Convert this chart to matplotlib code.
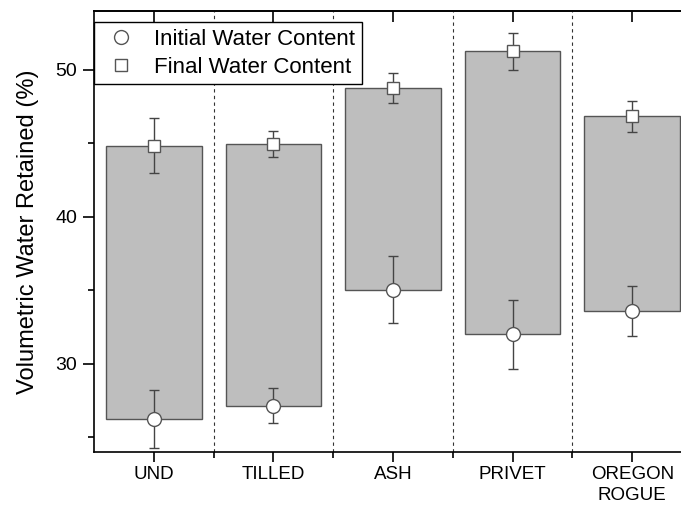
import matplotlib
matplotlib.use("Agg")
import matplotlib.pyplot as plt
from matplotlib.lines import Line2D
import numpy as np

plt.rcParams['font.family'] = ['Liberation Sans', 'DejaVu Sans']

categories = ["UND", "TILLED", "ASH", "PRIVET", "OREGON\nROGUE"]
initial = [26.25, 27.15, 35.05, 32.0, 33.6]
initial_err = [2.0, 1.2, 2.3, 2.35, 1.72]
final = [44.85, 44.95, 48.75, 51.25, 46.85]
final_err = [1.9, 0.88, 1.0, 1.28, 1.05]

fig = plt.figure(figsize=(6.81, 5.08), dpi=100)
ax = fig.add_axes([94/681, 56/508, (692-94)/681, (452-11)/508])

x = np.arange(len(categories))
heights = np.array(final) - np.array(initial)
ax.bar(x, heights, bottom=initial, width=0.8, color='#BEBEBE', edgecolor='#555555', linewidth=1.0, zorder=2)

for sep in np.arange(0.5, len(categories) - 0.5, 1.0):
    ax.axvline(sep, color='#333333', linestyle=(0, (3, 3)), linewidth=0.8, zorder=1)

mk_kw = dict(markerfacecolor='white', markeredgecolor='#555555', markeredgewidth=1.0)
ax.errorbar(x, initial, yerr=initial_err, fmt='o', markersize=10, ecolor='#444444', elinewidth=1.0,
            capsize=3.5, capthick=1.0, zorder=3, **mk_kw)
ax.errorbar(x, final, yerr=final_err, fmt='s', markersize=8.5, ecolor='#444444', elinewidth=1.0,
            capsize=3.5, capthick=1.0, zorder=3, **mk_kw)

ax.set_xlim(-0.5, len(categories) - 0.5)
ax.set_ylim(24, 54)
ax.set_yticks([30, 40, 50])
ax.set_yticks([25, 35, 45], minor=True)
ax.set_xticks(x)
ax.set_xticklabels(categories, fontsize=13.5, linespacing=1.35)
ax.set_xticks(np.arange(0.5, len(categories) - 0.5, 1.0), minor=True)
ax.tick_params(axis='y', which='major', direction='out', length=8, width=1.2, labelsize=14, pad=4)
ax.tick_params(axis='y', which='minor', direction='out', length=4, width=1.2)
ax.tick_params(axis='x', which='major', direction='out', length=7, width=1.2, pad=3)
ax.tick_params(axis='x', which='minor', direction='out', length=4, width=1.2)

top = ax.secondary_xaxis('top')
top.set_xticks(x)
top.set_xticklabels([])
top.tick_params(axis='x', which='major', direction='in', length=8, width=1.2)
top.spines['top'].set_linewidth(1.2)

for s in ax.spines.values():
    s.set_linewidth(1.2)
ax.set_ylabel('Volumetric Water Retained (%)', fontsize=17, labelpad=12)

handles = [Line2D([], [], linestyle='none', marker='o', markersize=10, **mk_kw),
           Line2D([], [], linestyle='none', marker='s', markersize=8.5, **mk_kw)]
leg = ax.legend(handles, ['Initial Water Content', 'Final Water Content'],
                loc='upper left', bbox_to_anchor=(0, 0.975), borderaxespad=0, fontsize=16,
                frameon=True, fancybox=False, edgecolor='black', handletextpad=0.62,
                handlelength=1.8, borderpad=0.3, labelspacing=0.32, framealpha=1)
leg.get_frame().set_linewidth(1.0)

fig.savefig('out.png', dpi=100)
